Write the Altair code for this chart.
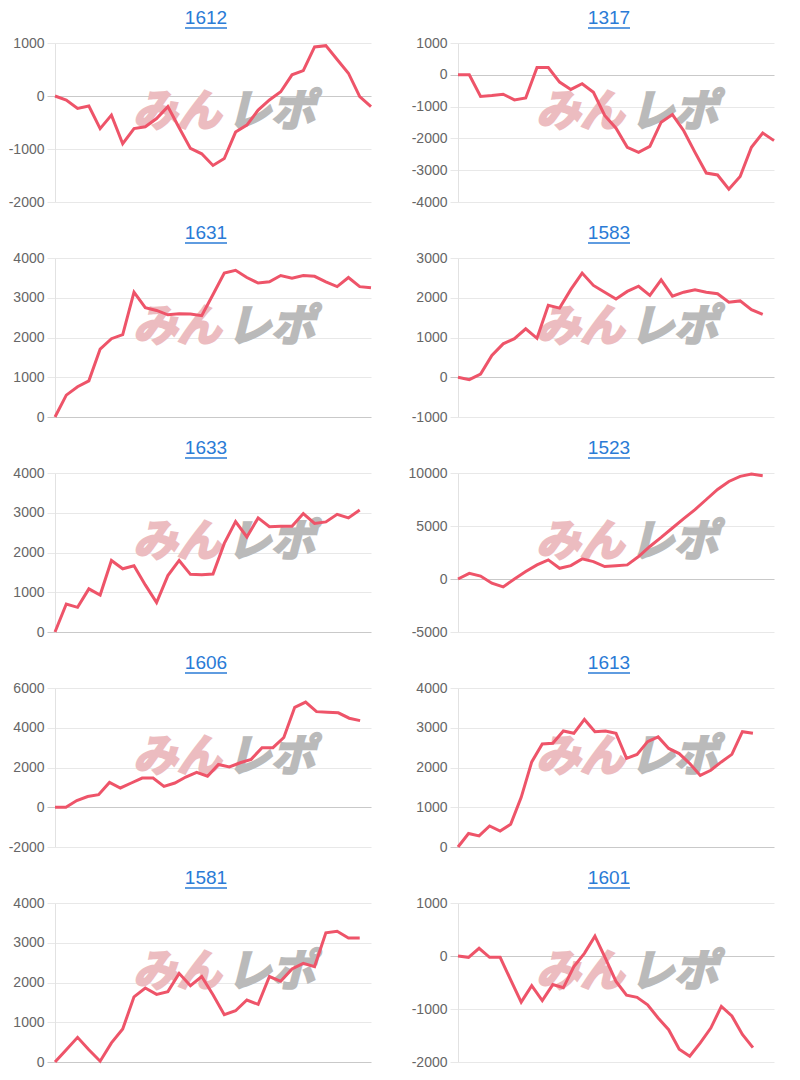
import altair as alt
import pandas as pd

# ---- data ----
codes = ["1612", "1317", "1631", "1583", "1633", "1523", "1606", "1613", "1581", "1601"]

s1612 = [0, -75, -235, -190, -615, -360, -900, -615, -580, -425, -200, -600, -990, -1090, -1310,
         -1180, -680, -550, -265, -75, 80, 400, 480, 925, 950, 690, 430, -10, -200]
s1317 = [0, 0, -680, -650, -610, -790, -730, 230, 230, -230, -460, -280, -550, -1280, -1680,
         -2280, -2440, -2250, -1490, -1250, -1760, -2440, -3090, -3150, -3600, -3200, -2280, -1830, -2070]
s1631 = [0, 550, 760, 910, 1710, 1970, 2070, 3140, 2750, 2680, 2570, 2600, 2590, 2550, 3080,
         3620, 3690, 3510, 3370, 3400, 3560, 3490, 3560, 3540, 3400, 3280, 3510, 3280, 3250]
s1583 = [0, -60, 80, 550, 840, 970, 1220, 980, 1810, 1740, 2210, 2620, 2310, 2140, 1970,
         2160, 2290, 2060, 2450, 2040, 2140, 2200, 2140, 2100, 1890, 1920, 1700, 1580]
s1633 = [0, 705, 620, 1085, 930, 1800, 1590, 1665, 1185, 740, 1420, 1800, 1450, 1440, 1460,
         2230, 2780, 2390, 2870, 2650, 2660, 2660, 2980, 2730, 2770, 2960, 2870, 3070]
s1523 = [0, 530, 280, -400, -750, 0, 700, 1330, 1800, 1010, 1260, 1900, 1640, 1170, 1260,
         1330, 2120, 3070, 3920, 4810, 5700, 6550, 7500, 8450, 9200, 9680, 9900, 9750]
s1606 = [0, 0, 340, 540, 630, 1250, 970, 1220, 1470, 1470, 1050, 1220, 1520, 1760, 1560,
         2150, 2030, 2240, 2410, 3000, 3000, 3510, 5030, 5290, 4810, 4780, 4750, 4480, 4360]
s1613 = [0, 340, 280, 530, 400, 570, 1250, 2140, 2590, 2610, 2920, 2860, 3210, 2900, 2920,
         2860, 2230, 2330, 2650, 2770, 2480, 2350, 2100, 1800, 1930, 2140, 2330, 2900, 2860]
s1581 = [0, 310, 620, 310, 20, 480, 830, 1640, 1860, 1700, 1770, 2230, 1920, 2150, 1690,
         1190, 1290, 1560, 1450, 2150, 2030, 2340, 2480, 2400, 3250, 3290, 3120, 3120]
s1601 = [0, -25, 145, -25, -25, -450, -870, -560, -840, -540, -600, -200, 50, 375, -45,
         -480, -740, -780, -920, -1170, -1390, -1760, -1890, -1640, -1360, -950, -1130, -1480, -1730]

series = [s1612, s1317, s1631, s1583, s1633, s1523, s1606, s1613, s1581, s1601]
# number of x-axis slots (labels) per chart
slots = [29, 29, 29, 29, 29, 29, 30, 31, 29, 31]
# y axis: min, max, tick step
y_min = [-2000, -4000, 0, -1000, 0, -5000, -2000, 0, 0, -2000]
y_max = [1000, 1000, 4000, 3000, 4000, 10000, 6000, 4000, 4000, 1000]
y_step = [1000, 1000, 1000, 1000, 1000, 5000, 2000, 1000, 1000, 1000]

# ---- styling ----
W, H = 316, 159
LINE = "#ee5469"
BLUE = "#2a7bd6"
FONT = "Liberation Sans"
WM_PINK = "#ecbcc0"
WM_GREY = "#bababa"


def panel(code, vals, nslots, lo, hi, step):
    df = pd.DataFrame({"i": list(range(len(vals))), "v": vals})
    one = pd.DataFrame({"t": [code]})
    ticks = list(range(lo, hi + step, step))

    yaxis = alt.Axis(
        values=ticks,
        title=None,
        labelExpr="'' + datum.value",
        grid=True,
        gridColor=alt.condition("datum.value == 0", alt.value("#c9c9c9"), alt.value("#e8e8e8")),
        tickColor=alt.condition("datum.value == 0", alt.value("#c9c9c9"), alt.value("#e8e8e8")),
    )
    xenc = alt.X("i:Q", scale=alt.Scale(domain=[0, nslots - 1], nice=False, zero=False), axis=None)
    yenc = alt.Y("v:Q", scale=alt.Scale(domain=[lo, hi], nice=False, zero=False), axis=yaxis)

    wm1 = alt.Chart(one).mark_text(
        text="みん", font="Noto Sans CJK JP", fontSize=44, fontWeight="bold", fontStyle="italic",
        color=WM_PINK, stroke=WM_PINK, strokeWidth=2.5, align="left", baseline="middle"
    ).encode(x=alt.value(78), y=alt.value(70))
    wm2 = alt.Chart(one).mark_text(
        text="レポ", font="Noto Sans CJK JP", fontSize=44, fontWeight="bold", fontStyle="italic",
        color=WM_GREY, stroke=WM_GREY, strokeWidth=2.5, align="left", baseline="middle"
    ).encode(x=alt.value(172), y=alt.value(70))

    line = alt.Chart(df).mark_line(color=LINE, strokeWidth=3).encode(x=xenc, y=yenc)

    title = alt.Chart(one).mark_text(
        font=FONT, fontSize=19, color=BLUE, align="center", baseline="middle"
    ).encode(text="t:N", x=alt.value(W / 2 - 7), y=alt.value(-25))
    underline = alt.Chart(one).mark_rule(color=BLUE, strokeWidth=1.3).encode(
        x=alt.value(W / 2 - 28), x2=alt.value(W / 2 + 14), y=alt.value(-15)
    )

    return alt.layer(wm1, wm2, line, title, underline).properties(width=W, height=H)


panels = [
    panel(codes[k], series[k], slots[k], y_min[k], y_max[k], y_step[k])
    for k in range(len(codes))
]

chart = alt.concat(*panels, columns=2, spacing={"row": 15, "column": 31}).properties(
    padding={"left": 0, "top": 1, "right": 2, "bottom": 2},
    background="white",
).configure_view(strokeWidth=0).configure_axis(
    labelFont=FONT,
    labelFontSize=14,
    labelColor="#666666",
    domainColor="#e2e2e2",
    tickSize=8,
    labelPadding=3,
)

chart.save("out.html", embed_options={"renderer": "svg", "actions": False})
